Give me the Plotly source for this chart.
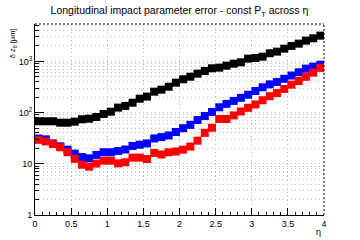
import plotly.graph_objects as go

eta = [round(0.05 + 0.1 * i, 2) for i in range(40)]

black = [67.6, 67.6, 67.6, 63.5, 63.5, 66.4, 74, 76, 82, 94,
         104, 125, 135, 156, 187, 205, 256, 280, 320, 384,
         447, 502, 575, 649, 733, 754, 824, 902, 960, 1130,
         1165, 1236, 1440, 1550, 1770, 2000, 2220, 2540, 2820, 3180]

blue = [31.2, 30.0, 25.0, 22.0, 18.9, 15.8, 13.6, 12.8, 14.9, 16.8,
        16.8, 17.8, 19.0, 22.3, 23.6, 25.0, 31.3, 33.2, 35.8, 41.8,
        49.5, 57.5, 71.5, 86, 103, 127, 148, 169, 194, 223,
        264, 312, 356, 396, 457, 530, 613, 721, 790, 862]

red = [29.4, 27.3, 24.4, 21.0, 16.8, 12.5, 9.6, 8.8, 10.1, 11.5,
       11.5, 10.2, 10.7, 13.2, 13.2, 12.4, 16.3, 15.2, 16.8, 17.4,
       18.9, 21.7, 28.3, 40.2, 50.6, 75, 75, 88, 105, 124,
       144, 174, 209, 241, 289, 351, 414, 500, 603, 748]

xticks = [0, 0.5, 1, 1.5, 2, 2.5, 3, 3.5, 4]
xticklabels = ["0", "0.5", "1", "1.5", "2", "2.5", "3", "3.5", "4"]
yticks = [1, 10, 100, 1000]
yticklabels = ["1", "10", "10<sup>2</sup>", "10<sup>3</sup>"]
yminor = [m * 10 ** d for d in range(0, 4) for m in range(2, 10) if m * 10 ** d < 5400]
xminor = [round(0.1 * i, 1) for i in range(41)]

font = "Liberation Sans, Arial, sans-serif"

fig = go.Figure()
for vals, col in [(black, "#000000"), (blue, "#0000ff"), (red, "#ff0000")]:
    fig.add_trace(go.Scatter(
        x=eta, y=vals, mode="markers",
        marker=dict(symbol="square", size=8, color=col, line=dict(width=0)),
        showlegend=False, hoverinfo="skip"))

grid_col = "#c0c0c0"
grid_dash = "1px,3px"
fig.update_layout(
    width=360, height=240,
    margin=dict(l=35, r=36, t=24, b=25),
    paper_bgcolor="white", plot_bgcolor="white",
    font=dict(family=font, color="black", size=9),
    title=dict(text="Longitudinal impact parameter error - const P<sub>T</sub> across η",
               x=0.5, xref="paper", y=0.955, yref="container",
               xanchor="center", yanchor="middle",
               font=dict(size=10.5, family=font)),
    xaxis=dict(range=[0, 4], tickmode="array", tickvals=xticks, ticktext=xticklabels,
               ticks="inside", ticklen=7, tickwidth=1, tickcolor="black",
               showline=True, linecolor="black", linewidth=1, mirror=False,
               showgrid=True, gridcolor=grid_col, griddash=grid_dash, gridwidth=1,
               zeroline=False, tickfont=dict(size=9),
               minor=dict(tickmode="array", tickvals=xminor, ticks="inside", ticklen=3,
                          tickcolor="black", showgrid=False)),
    yaxis=dict(type="log", range=[0, 3.73], tickmode="array", tickvals=yticks,
               ticktext=yticklabels,
               ticks="inside", ticklen=9, tickwidth=1, tickcolor="black",
               showline=True, linecolor="black", linewidth=1, mirror=False,
               showgrid=True, gridcolor=grid_col, griddash=grid_dash, gridwidth=1,
               zeroline=False, tickfont=dict(size=9),
               minor=dict(tickmode="array", tickvals=yminor, ticks="inside", ticklen=4,
                          tickcolor="black", showgrid=True, gridcolor=grid_col,
                          griddash=grid_dash, gridwidth=1)),
)

# dashed top/right frame edges
fig.add_shape(type="line", xref="paper", yref="paper", x0=0, x1=1, y0=1, y1=1,
              line=dict(color="black", width=1, dash="2px,2px"))
fig.add_shape(type="line", xref="paper", yref="paper", x0=1, x1=1, y0=0, y1=1,
              line=dict(color="black", width=1, dash="2px,2px"))

fig.add_annotation(text="δ z<sub>0</sub> [μm]", xref="paper", yref="paper",
                   x=-0.075, y=0.99, xanchor="center", yanchor="top",
                   textangle=-90, showarrow=False, font=dict(size=7.5, family=font))
fig.add_annotation(text="η", xref="paper", yref="paper",
                   x=0.995, y=-0.09, xanchor="right", yanchor="middle",
                   showarrow=False, font=dict(size=9, family=font))

fig.write_html("out.html")
